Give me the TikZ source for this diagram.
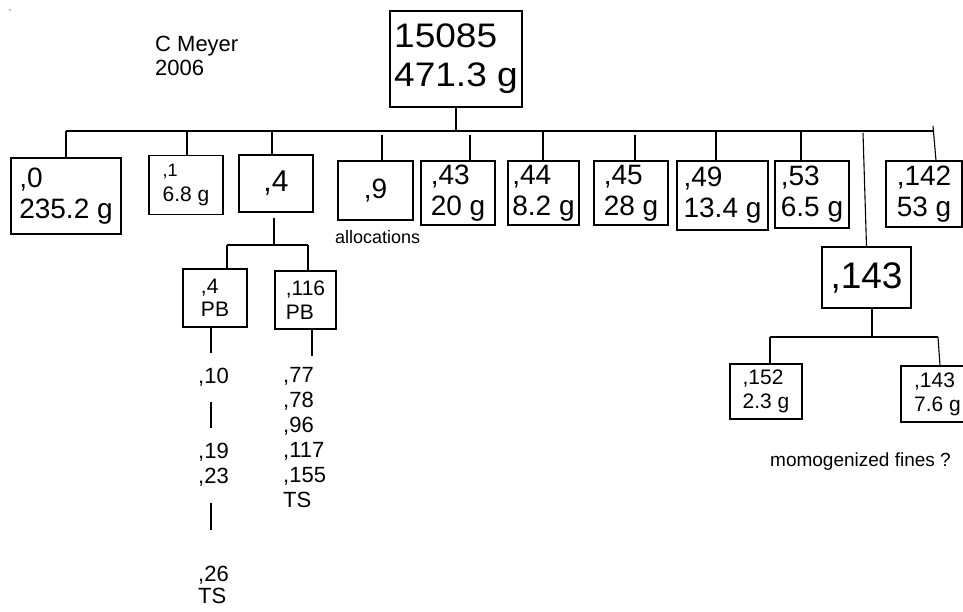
\documentclass[tikz,border=0pt]{standalone}
\usepackage{graphicx}
\usepackage{fontspec}
\setmainfont{Liberation Sans}
\usetikzlibrary{positioning,calc}
\newcommand{\fs}[2]{\fontsize{#1}{#2}\selectfont}
\newcommand{\wide}[1]{\scalebox{1.09}[1]{#1}}

\begin{document}
\begin{tikzpicture}[
  x=1pt, y=-1pt,
  box/.style={rectangle, draw=black, line width=1.1pt, inner sep=0pt, align=left},
  lbl/.style={inner sep=0pt, align=left, anchor=north west},
  wire/.style={line width=1.1pt, black}
]
\useasboundingbox (0,0) rectangle (963,612);
\clip (0,0) rectangle (963,612);
\fill[gray] (10,10) circle (0.8);

% sample and author
\node[lbl, font=\fs{22}{24}] (author) at (155,36) {C Meyer\\2006};
\node[box, minimum width=132, minimum height=96, font=\fs{34}{39}] (root) at (456,59)
  {\wide{15085}\\\wide{471.3 g}};

% first splits
\node[box, minimum width=110, minimum height=76, font=\fs{28}{31}] (n0) at (66,196) {,0\\235.2 g};
\node[box, minimum width=74, minimum height=59, font=\fs{21}{25}] (n1) at (186,185) {{\fs{18}{25},1}\\6.8 g};
\node[box, minimum width=74, minimum height=57, font=\fs{30}{33}] (n4) at (276,183.5) {,4};
\node[box, minimum width=75, minimum height=59, font=\fs{28}{31}] (n9) at (375.5,190.5) {,9};
\node[box, minimum width=74, minimum height=64, font=\fs{28}{31}] (n43) at (458,193) {,43\\20 g};
\node[box, minimum width=71, minimum height=64, font=\fs{28}{31}] (n44) at (543.5,193) {,44\\8.2 g};
\node[box, minimum width=74, minimum height=64, font=\fs{28}{31}] (n45) at (631,193) {,45\\28 g};
\node[box, minimum width=91, minimum height=69, font=\fs{28}{31}] (n49) at (722.5,195.5) {,49\\13.4 g};
\node[box, minimum width=74, minimum height=67, font=\fs{28}{31}] (n53) at (812,194.5) {,53\\6.5 g};
\node[box, minimum width=76, minimum height=66, font=\fs{28}{31}] (n142) at (924,194) {,142\\53 g};
\node[lbl, font=\fs{18}{20}] (alloc) at (335,230) {allocations};

% ,143 and its pieces
\node[box, minimum width=89, minimum height=61, font=\fs{37}{40}] (n143) at (866.5,277.5) {,143};
\node[box, minimum width=72, minimum height=55, font=\fs{21}{24}] (n152) at (766,391.5) {,152\\2.3 g};
\node[box, minimum width=73, minimum height=56, font=\fs{21}{24}] (n143b) at (937.5,394) {,143\\7.6 g};
\node[lbl, font=\fs{19}{21}] (fines) at (770,453) {momogenized fines ?};

% ,4 and its pieces
\node[box, minimum width=64, minimum height=58, font=\fs{21}{23}] (pb4) at (215,298) {,4\\PB};
\node[box, minimum width=61, minimum height=58, font=\fs{21}{24}] (pb116) at (305.5,300) {,116\\PB};
\node[lbl, font=\fs{22}{25}] (s10) at (198,368) {,10};
\node[lbl, font=\fs{22}{25}] (s19) at (198,443) {,19\\,23};
\node[lbl, font=\fs{22}{22}] (s26) at (198,566) {,26\\TS};
\node[lbl, font=\fs{22}{25}] (s77) at (283,367) {,77\\,78\\,96\\,117\\,155\\TS};

% top bus
\coordinate (busL) at (66,131);
\coordinate (busR) at (933,131);
\draw[wire] (root.south) -- (root.south |- busL);
\draw[wire] (busL) -- (busR);
\coordinate (t1) at (187,131);
\coordinate (t4) at (272,130);
\coordinate (t9) at (382,135);
\coordinate (t43) at (470,135);
\coordinate (t44) at (543,131);
\coordinate (t45) at (635,135);
\coordinate (t49) at (716,131);
\coordinate (t53) at (801,131);
\coordinate (t143) at (863,133);
\coordinate (t142) at (933,126);
\draw[wire] (busL) -- (n0.north);
\draw[wire] (t1) -- (t1 |- n1.north);
\draw[wire] (t4) -- ($(t4 |- n4.north)+(0,2)$);
\draw[wire] (t9) -- (t9 |- n9.north);
\draw[wire] (t43) -- (t43 |- n43.north);
\draw[wire] (t44) -- (t44 |- n44.north);
\draw[wire] (t45) -- (t45 |- n45.north);
\draw[wire] (t49) -- (t49 |- n49.north);
\draw[wire] (t53) -- (t53 |- n53.north);
\draw[wire] (t143) -- (n143.north);
\draw[wire] (t142) -- ($(n142.north)+(12,0)$);

% under ,4
\coordinate (j4) at (274,245);
\coordinate (b4L) at (227,245);
\coordinate (b4R) at (308,245);
\draw[wire] ($(j4 |- n4.south)+(0,5)$) -- (j4);
\draw[wire] (b4L) -- (b4R);
\draw[wire] (b4L) -- (b4L |- pb4.north);
\draw[wire] (b4R) -- (b4R |- pb116.north);
\coordinate (e4) at (211,353);
\coordinate (e116) at (312,356);
\draw[wire] (e4 |- pb4.south) -- (e4);
\draw[wire] (e116 |- pb116.south) -- (e116);
\draw[wire, shorten <=15, shorten >=15] (s10.south -| e4) -- (s19.north -| e4);
\draw[wire, shorten <=16, shorten >=36] (s19.south -| e4) -- (s26.north -| e4);

% under ,143
\coordinate (j143) at (872,337);
\coordinate (b143L) at (770,337);
\coordinate (b143R) at (938,337);
\draw[wire] (j143 |- n143.south) -- (j143);
\draw[wire] (b143L) -- (b143R);
\draw[wire] (b143L) -- (b143L |- n152.north);
\draw[wire] (b143R) -- ($(n143b.north)+(2.5,0)$);
\end{tikzpicture}
\end{document}
